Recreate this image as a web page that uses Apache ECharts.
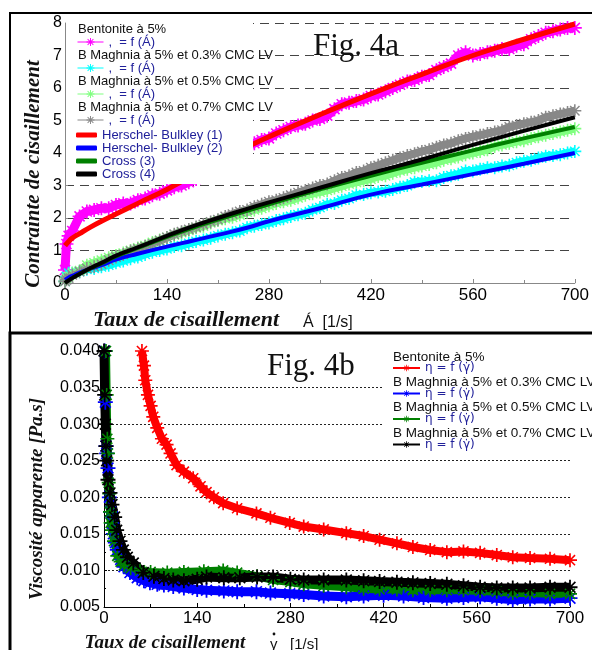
<!DOCTYPE html>
<html>
<head>
<meta charset="utf-8">
<script src="https://cdn.jsdelivr.net/npm/echarts@6/dist/echarts.min.js"></script>
<style>
  html, body { margin: 0; padding: 0; background: #fff; }
  #main { width: 592px; height: 650px; }
</style>
</head>
<body>
<div id="main"></div>
<script>
// ---- Fig. 4a : shear stress vs shear rate ----
const topRate = [0, 2, 5, 10, 20, 30, 40, 50, 60, 70, 80, 90, 100, 110, 120, 130, 140, 150, 160, 170, 180, 190, 200,
  210, 220, 230, 240, 250, 260, 270, 280, 290, 300, 310, 320, 330, 340, 350, 360, 370, 380, 390, 400,
  410, 420, 430, 440, 450, 460, 470, 480, 490, 500, 510, 520, 530, 540, 550, 560, 570, 580, 590, 600,
  610, 620, 630, 640, 650, 660, 670, 680, 690, 700];
const bentoniteTau = [0.4, 1.2, 1.45,
  1.6, 2.05, 2.2, 2.25, 2.3, 2.3, 2.4, 2.45, 2.45, 2.55,
  2.6, 2.7, 2.75, 2.85, 2.95, 3.0, 3.1, 3.2, 3.3, 3.45,
  3.6, 3.75, 3.9, 4.05, 4.2, 4.3, 4.4, 4.45, 4.6, 4.7,
  4.8, 4.85, 4.9, 5.0, 5.05, 5.15, 5.35, 5.5, 5.55, 5.6,
  5.65, 5.75, 5.8, 5.9, 6.0, 6.1, 6.2, 6.25, 6.35, 6.4,
  6.55, 6.65, 6.75, 7.0, 7.1, 7.0, 7.05, 7.1, 7.15, 7.2,
  7.2, 7.3, 7.35, 7.5, 7.6, 7.7, 7.75, 7.8, 7.85, 7.85];
const cmc03Tau = [0.05, 0.2, 0.3,
  0.3, 0.35, 0.42, 0.45, 0.5, 0.55, 0.62, 0.68, 0.75, 0.8,
  0.88, 0.95, 1.0, 1.05, 1.12, 1.15, 1.22, 1.28, 1.32, 1.38,
  1.45, 1.5, 1.55, 1.6, 1.7, 1.75, 1.8, 1.85, 1.92, 1.98,
  2.05, 2.1, 2.15, 2.25, 2.32, 2.42, 2.45, 2.55, 2.6, 2.7,
  2.72, 2.78, 2.8, 2.82, 2.88, 2.95, 3.0, 3.1, 3.12, 3.15,
  3.15, 3.25, 3.3, 3.35, 3.45, 3.45, 3.5, 3.55, 3.55, 3.6,
  3.62, 3.7, 3.75, 3.78, 3.85, 3.9, 3.92, 3.95, 4.0, 4.05];
const cmc05Tau = [0.05, 0.15, 0.2,
  0.3, 0.38, 0.55, 0.62, 0.7, 0.78, 0.85, 0.92, 1.0, 1.08,
  1.15, 1.25, 1.32, 1.4, 1.48, 1.55, 1.62, 1.7, 1.75, 1.85,
  1.92, 1.98, 2.02, 2.1, 2.18, 2.25, 2.3, 2.38, 2.45, 2.5,
  2.55, 2.62, 2.7, 2.75, 2.8, 2.85, 2.92, 2.98, 3.05, 3.1,
  3.15, 3.2, 3.28, 3.3, 3.38, 3.45, 3.5, 3.55, 3.6, 3.65,
  3.7, 3.78, 3.82, 3.88, 3.95, 4.0, 4.05, 4.1, 4.2, 4.25,
  4.3, 4.35, 4.38, 4.45, 4.5, 4.55, 4.6, 4.65, 4.7, 4.75];
const cmc07Tau = [0.05, 0.1, 0.15,
  0.25, 0.35, 0.45, 0.5, 0.58, 0.7, 0.8, 0.88, 0.98, 1.05,
  1.12, 1.2, 1.3, 1.4, 1.5, 1.58, 1.65, 1.72, 1.8, 1.88,
  1.95, 2.05, 2.12, 2.2, 2.25, 2.35, 2.42, 2.5, 2.55, 2.62,
  2.7, 2.78, 2.85, 2.92, 3.0, 3.05, 3.15, 3.25, 3.3, 3.4,
  3.45, 3.55, 3.62, 3.7, 3.78, 3.85, 3.92, 3.98, 4.05, 4.1,
  4.18, 4.25, 4.3, 4.38, 4.45, 4.5, 4.55, 4.6, 4.65, 4.7,
  4.8, 4.85, 4.9, 4.95, 5.0, 5.1, 5.15, 5.2, 5.25, 5.3];

// fitted model curves
const fitRate = [0, 5, 10, 20, 35, 50, 70, 100, 140, 175, 210, 250, 280, 350, 420, 490, 560, 630, 700];
const hb1 = [1.15, 1.28, 1.38, 1.52, 1.72, 1.9, 2.12, 2.45, 2.88, 3.3, 3.72, 4.18, 4.5, 5.18, 5.82, 6.42, 7.0, 7.5, 7.97];
const hb2 = [0.1, 0.17, 0.22, 0.32, 0.44, 0.55, 0.72, 0.9, 1.12, 1.3, 1.48, 1.7, 1.9, 2.3, 2.72, 3.03, 3.35, 3.67, 4.0];
const cross3 = [0, 0.08, 0.15, 0.28, 0.45, 0.6, 0.82, 1.08, 1.42, 1.7, 1.95, 2.22, 2.42, 2.88, 3.3, 3.7, 4.08, 4.45, 4.8];
const cross4 = [0, 0.08, 0.15, 0.28, 0.46, 0.62, 0.84, 1.1, 1.45, 1.74, 2.0, 2.28, 2.48, 2.93, 3.38, 3.8, 4.25, 4.68, 5.1];

// ---- Fig. 4b : apparent viscosity vs shear rate ----
const redRate = [57, 60, 62, 66, 70, 74, 80, 87, 94, 100, 109, 120, 134, 145, 154, 165, 179, 200, 229, 250,
  279, 300, 330, 364, 390, 414, 440, 464, 490, 515, 540, 565, 590, 614, 640, 670, 700];
const redEta = [0.040, 0.038, 0.036, 0.034, 0.0325, 0.031, 0.0295, 0.028, 0.0272, 0.026, 0.0244, 0.0235, 0.0226,
  0.0215, 0.0207, 0.0200, 0.0192, 0.0185, 0.0178, 0.0172, 0.0165, 0.0160, 0.0156, 0.0151, 0.0147, 0.0142,
  0.0137, 0.0132, 0.0128, 0.0125, 0.0126, 0.0124, 0.0121, 0.0118, 0.0117, 0.0116, 0.0114];
const blueRate = [1, 2, 3, 4, 6, 8, 10, 12, 14, 17, 20, 25, 30, 39, 50, 60, 69, 80, 90, 104, 120, 140, 154, 180,
  200, 229, 250, 279, 300, 330, 364, 390, 420, 450, 480, 515, 540, 565, 590, 614, 640, 670, 700];
const blueEta = [0.040, 0.033, 0.027, 0.026, 0.024, 0.020, 0.018, 0.0165, 0.015, 0.0138, 0.0128, 0.0115, 0.0105,
  0.0097, 0.0090, 0.0086, 0.0083, 0.0081, 0.0080, 0.0078, 0.0076, 0.0074, 0.0073, 0.0072, 0.0071, 0.0071,
  0.0069, 0.0068, 0.0067, 0.0065, 0.0064, 0.0065, 0.0066, 0.0065, 0.0063, 0.0062, 0.0063, 0.0064, 0.0062,
  0.0060, 0.0061, 0.0061, 0.0062];
const greenRate = [3, 4, 5, 6, 7, 8, 9, 10, 12, 15, 20, 25, 30, 40, 54, 70, 95, 120, 150, 179, 200, 230, 254, 280,
  300, 330, 364, 390, 414, 440, 464, 490, 515, 540, 565, 590, 614, 640, 670, 700];
const greenEta = [0.040, 0.034, 0.028, 0.026, 0.022, 0.0205, 0.018, 0.0165, 0.0155, 0.014, 0.012, 0.0112, 0.0107,
  0.0103, 0.0100, 0.0098, 0.0097, 0.0098, 0.0099, 0.0100, 0.0097, 0.0092, 0.0087, 0.0084, 0.0081, 0.0079,
  0.0077, 0.0075, 0.0074, 0.0074, 0.0073, 0.0073, 0.0073, 0.0073, 0.0072, 0.0071, 0.0069, 0.0069, 0.0068, 0.0068];
const blackRate = [0, 1, 2, 3, 4, 6, 9, 12, 16, 19, 24, 29, 35, 44, 59, 75, 90, 104, 120, 140, 154, 180, 204, 230,
  254, 280, 300, 330, 364, 390, 414, 440, 464, 490, 515, 540, 565, 590, 614, 640, 670, 700];
const blackEta = [0.040, 0.034, 0.030, 0.027, 0.025, 0.0224, 0.0206, 0.019, 0.0173, 0.0155, 0.014, 0.0128, 0.0118,
  0.0110, 0.0097, 0.0092, 0.0089, 0.0087, 0.0086, 0.0088, 0.0091, 0.0090, 0.0090, 0.0091, 0.0091, 0.0088,
  0.0087, 0.0087, 0.0087, 0.0086, 0.0085, 0.0084, 0.0083, 0.0082, 0.0081, 0.0079, 0.0077, 0.0076, 0.0076,
  0.0076, 0.0077, 0.0077];

const headers = ['Bentonite à 5%', 'B Maghnia à 5% et 0.3% CMC LV', 'B Maghnia à 5% et 0.5% CMC LV', 'B Maghnia à 5% et 0.7% CMC LV'];

// asterisk marker
const star = 'path://M4.4 0H5.6V10H4.4Z M0 4.4H10V5.6H0Z M1 1.8L1.8 1L9 8.2L8.2 9Z M8.2 1L9 1.8L1.8 9L1 8.2Z';
const legendBlue = '#20209a';
const serif = '"Liberation Serif", "Times New Roman", serif';

function pairs(xs, ys) {
  return xs.map((x, i) => [x, ys[i]]);
}

function band(name, color, xs, ys, idx, width, size) {
  return {
    name: name, type: 'line', xAxisIndex: idx, yAxisIndex: idx,
    data: pairs(xs, ys),
    symbol: star, symbolSize: size,
    lineStyle: { color: color, width: width },
    itemStyle: { color: color },
    z: 2
  };
}

function fit(name, color, ys, width) {
  return {
    name: name, type: 'line', xAxisIndex: 0, yAxisIndex: 0,
    data: pairs(fitRate, ys), smooth: true, symbol: 'none',
    lineStyle: { color: color, width: width },
    itemStyle: { color: color },
    z: 3
  };
}

function text(x, y, str, font, align) {
  align = align || 'left';
  return {
    type: 'text', x: x, y: y, z: 5,
    style: { text: str, font: font, fill: '#111', align: align, verticalAlign: 'middle',
      textAlign: align, textVerticalAlign: 'middle' }
  };
}

function vtext(x, y, str, font) {
  return {
    type: 'text', x: x, y: y, z: 5, rotation: Math.PI / 2,
    style: { text: str, font: font, fill: '#111', align: 'center', verticalAlign: 'middle',
      textAlign: 'center', textVerticalAlign: 'middle' }
  };
}

const tauNames = ['τ Bentonite', 'τ 0.3% CMC', 'τ 0.5% CMC', 'τ 0.7% CMC'];
const fitNames = ['Herschel- Bulkley (1)', 'Herschel- Bulkley (2)', 'Cross (3)', 'Cross (4)'];
const etaNames = ['η Bentonite', 'η 0.3% CMC', 'η 0.5% CMC', 'η 0.7% CMC'];

let myChart = echarts.init(document.getElementById('main'));
myChart.setOption({
  animation: false,
  backgroundColor: '#fff',
  grid: [
    { left: 65, right: 9, top: 23, bottom: 367 },
    { left: 104, right: 22, top: 351, bottom: 43 }
  ],
  xAxis: [
    {
      gridIndex: 0, type: 'value', min: 0, max: 700, interval: 140,
      axisLine: { lineStyle: { color: '#888', width: 1 } },
      axisTick: { inside: true, length: 4, lineStyle: { color: '#888' } },
      minorTick: { show: true, splitNumber: 2, length: 3, lineStyle: { color: '#888' } },
      splitLine: { show: false },
      axisLabel: { color: '#000', fontSize: 17, fontFamily: 'Arial', margin: 4 }
    },
    {
      gridIndex: 1, type: 'value', min: 0, max: 700, interval: 140,
      axisLine: { lineStyle: { color: '#000', width: 1 } },
      axisTick: { inside: true, length: 4, lineStyle: { color: '#000' } },
      minorTick: { show: true, splitNumber: 2, length: 3, lineStyle: { color: '#000' } },
      splitLine: { show: false },
      axisLabel: { color: '#000', fontSize: 17, fontFamily: 'Arial', margin: 3 }
    }
  ],
  yAxis: [
    {
      gridIndex: 0, type: 'value', min: 0, max: 8, interval: 1,
      axisLine: { show: true, lineStyle: { color: '#888', width: 1 } },
      axisTick: { show: true, inside: true, length: 3, lineStyle: { color: '#888' } },
      splitLine: { show: true, lineStyle: { color: '#444', width: 1, type: [9, 6] } },
      axisLabel: { color: '#000', fontSize: 16, fontFamily: 'Arial', margin: 3 }
    },
    {
      gridIndex: 1, type: 'value', min: 0.005, max: 0.040, interval: 0.005,
      axisLine: { show: true, lineStyle: { color: '#000', width: 1 } },
      axisTick: { show: true, inside: true, length: 3, lineStyle: { color: '#000' } },
      minorTick: { show: true, splitNumber: 2, length: 2, lineStyle: { color: '#000' } },
      splitLine: {
        show: true,
        lineStyle: { width: 1, type: [2, 2],
          color: ['#222', '#222', '#222', '#222', '#222', '#222', '#222', 'rgba(0,0,0,0)'] }
      },
      axisLabel: { color: '#000', fontSize: 16, fontFamily: 'Arial', margin: 4,
        formatter: v => v.toFixed(3) }
    }
  ],
  legend: [
    {
      data: tauNames, orient: 'vertical', left: 77, top: 35, padding: 0,
      itemWidth: 26, itemHeight: 10, itemGap: 12, selectedMode: false,
      formatter: () => ',  = f (Á)',
      lineStyle: { width: 1 },
      textStyle: { color: legendBlue, fontSize: 13, fontFamily: 'Arial', lineHeight: 14 }
    },
    {
      data: fitNames, orient: 'vertical', left: 76, top: 128.5, padding: 0,
      icon: 'roundRect', itemWidth: 21, itemHeight: 5, itemGap: 0, selectedMode: false,
      textStyle: { color: legendBlue, fontSize: 13, fontFamily: 'Arial', lineHeight: 13 }
    },
    {
      data: etaNames, orient: 'vertical', left: 392, top: 361.5, padding: 0,
      itemWidth: 27, itemHeight: 8, itemGap: 12.5, selectedMode: false,
      formatter: () => 'η = f (γ̇)',
      lineStyle: { width: 2 },
      textStyle: { color: legendBlue, fontSize: 12, fontFamily: 'DejaVu Sans', lineHeight: 13 }
    }
  ],
  graphic: [
    { type: 'rect', z: 0, shape: { x: 10, y: 13, width: 600, height: 320 },
      style: { fill: 'none', stroke: '#000', lineWidth: 2 } },
    { type: 'rect', z: 0, shape: { x: 10, y: 333, width: 600, height: 340 },
      style: { fill: 'none', stroke: '#000', lineWidth: 3 } },
    // white legend boxes (above the series, below the legends)
    { type: 'rect', z: 3.5, shape: { x: 66, y: 21, width: 187, height: 163 }, style: { fill: '#fff' } },
    { type: 'rect', z: 3.5, shape: { x: 383, y: 346, width: 215, height: 106 }, style: { fill: '#fff' } },
    text(78, 29, headers[0], '13px Arial'),
    text(78, 55, headers[1], '13px Arial'),
    text(78, 81, headers[2], '13px Arial'),
    text(78, 107, headers[3], '13px Arial'),
    text(393, 357, headers[0], '13.5px Arial'),
    text(393, 382, headers[1], '13.5px Arial'),
    text(393, 407, headers[2], '13.5px Arial'),
    text(393, 433, headers[3], '13.5px Arial'),
    text(313, 47, 'Fig. 4a', '31px ' + serif),
    text(267, 367, 'Fig. 4b', '31px ' + serif),
    vtext(34, 174, 'Contrainte de cisaillement', 'italic bold 21px ' + serif),
    vtext(37, 499, 'Viscosité apparente [Pa.s]', 'italic bold 19px ' + serif),
    text(186, 320, 'Taux de cisaillement', 'italic bold 22px ' + serif, 'center'),
    text(303, 323, 'Á  [1/s]', '16px Arial'),
    text(165, 643, 'Taux de cisaillement', 'italic bold 19px ' + serif, 'center'),
    text(270, 645, 'γ   [1/s]', '15px Arial'),
    { type: 'circle', z: 5, shape: { cx: 274, cy: 634, r: 1.4 }, style: { fill: '#111' } }
  ],
  series: [
    band(tauNames[0], '#ff00ff', topRate, bentoniteTau, 0, 9, 14),
    band(tauNames[1], '#00ffff', topRate, cmc03Tau, 0, 8, 13),
    band(tauNames[2], '#80ff80', topRate, cmc05Tau, 0, 8, 13),
    band(tauNames[3], '#888888', topRate, cmc07Tau, 0, 8, 13),
    fit(fitNames[0], '#ff0000', hb1, 5),
    fit(fitNames[1], '#0000ff', hb2, 4),
    fit(fitNames[2], '#008000', cross3, 4),
    fit(fitNames[3], '#000000', cross4, 4),
    band(etaNames[0], '#ff0000', redRate, redEta, 1, 8, 14),
    band(etaNames[1], '#0000ff', blueRate, blueEta, 1, 9, 15),
    band(etaNames[2], '#008000', greenRate, greenEta, 1, 8, 14),
    band(etaNames[3], '#000000', blackRate, blackEta, 1, 9, 15)
  ]
});
</script>
</body>
</html>
